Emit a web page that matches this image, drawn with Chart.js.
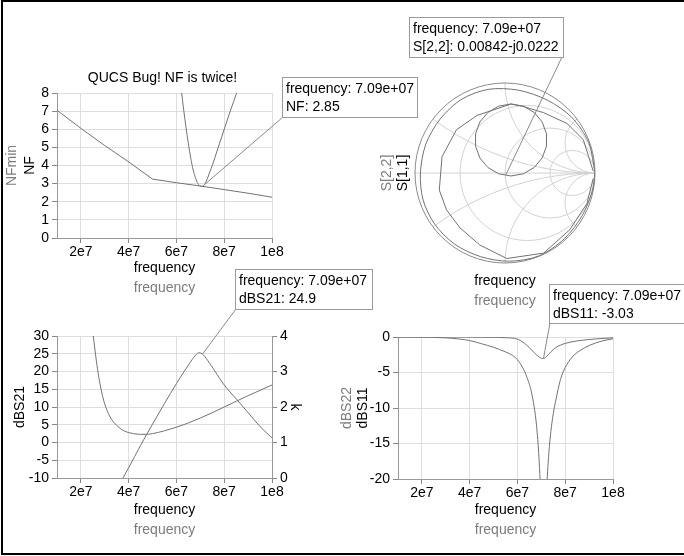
<!DOCTYPE html>
<html><head><meta charset="utf-8">
<script src="https://cdn.jsdelivr.net/npm/chart.js@4/dist/chart.umd.min.js"></script>
<style>
html,body{margin:0;padding:0;background:#fff;}
#wrap{position:relative;width:684px;height:556px;overflow:hidden;background:#fff;}
#frame{position:absolute;left:1px;top:0;width:700px;height:551px;border:2px solid #000;}
canvas{position:absolute;left:0;top:0;}
</style></head><body>
<div id="wrap"><div id="frame"></div>
<canvas id="c1" width="684" height="556"></canvas>
<canvas id="c2" width="684" height="556"></canvas>
<canvas id="c3" width="684" height="556"></canvas>
<canvas id="c4" width="684" height="556"></canvas>
</div>
<script>
// ---------- shared ----------
const FONT = '"Liberation Sans", Arial, Helvetica, sans-serif';
const freqTicks = [2e7, 4e7, 6e7, 8e7, 1e8];
const freqTickLabels = ['2e7', '4e7', '6e7', '8e7', '1e8'];
const markerFreq = 7.09e7;
const markerFreqLabel = '7.09e+07';

// ---------- NF panel ----------
const nfminFreq = [1e7, 2e7, 3e7, 4e7, 5e7, 6e7, 7e7, 8e7, 9e7, 1e8];
const nfminVals = [7.05, 6.05, 5.1, 4.2, 3.25, 3.05, 2.87, 2.67, 2.47, 2.25];
const nfFreq = [6.0e7, 6.1e7, 6.2e7, 6.3e7, 6.4e7, 6.5e7, 6.6e7, 6.7e7, 6.8e7, 6.9e7, 7.0e7, 7.09e7, 7.2e7, 7.3e7, 7.4e7, 7.5e7, 7.6e7, 7.7e7, 7.8e7, 7.9e7, 8.0e7, 8.2e7, 8.4e7, 8.6e7, 8.8e7];
const nfVals = [10.5, 9.2, 8.2, 7.1, 6.1, 5.2, 4.4, 3.75, 3.3, 3.0, 2.87, 2.85, 3.0, 3.3, 3.65, 4.0, 4.4, 4.8, 5.2, 5.6, 6.0, 6.8, 7.55, 8.3, 9.0];
const nfTicks = [0, 1, 2, 3, 4, 5, 6, 7, 8];
const nfTickLabels = ['0', '1', '2', '3', '4', '5', '6', '7', '8'];
const nfMarker = 2.85;
const nfMarkerLabel = '2.85';

// ---------- Smith panel ----------
const s11Re = [1.0, 0.93, 0.74, 0.47, 0.15, -0.18, -0.48, -0.72, -0.88, -0.94, -0.91, -0.78, -0.56, -0.27, 0.05, 0.38, 0.66, 0.86, 0.97, 1.0];
const s11Im = [0.0, 0.34, 0.62, 0.81, 0.92, 0.93, 0.82, 0.6, 0.32, 0.0, -0.3, -0.57, -0.79, -0.93, -0.98, -0.92, -0.73, -0.47, -0.2, 0.0];
const s22Re = [0.98, 0.87, 0.69, 0.43, 0.2, 0.067, 0.204, 0.324, 0.413, 0.461, 0.461, 0.413, 0.324, 0.204, 0.067, -0.070, -0.190, -0.279, -0.327, -0.327, -0.279, -0.190, -0.070, 0.067, -0.31, -0.54, -0.70, -0.73, -0.65, -0.50, -0.28, 0.02, 0.43, 0.72, 0.91, 0.98];
const s22Im = [0.02, 0.37, 0.55, 0.67, 0.74, 0.767, 0.743, 0.673, 0.567, 0.436, 0.298, 0.167, 0.061, -0.009, -0.033, -0.009, 0.061, 0.167, 0.298, 0.436, 0.567, 0.673, 0.743, 0.767, 0.64, 0.48, 0.18, -0.19, -0.41, -0.61, -0.80, -0.95, -0.89, -0.63, -0.34, -0.06];
const s22Marker = [0.00842, -0.0222];
const s22MarkerLabel = '0.00842-j0.0222';
const smithR = [1 / 3, 1, 3];
const smithX = [1 / 3, 1, 3, -1 / 3, -1, -3];

// ---------- dBS21 / k panel ----------
const s21Freq = [3.5e7, 3.76e7, 4e7, 4.5e7, 5e7, 5.5e7, 6e7, 6.5e7, 6.8e7, 6.95e7, 7.09e7, 7.3e7, 7.6e7, 8e7, 8.5e7, 9e7, 9.5e7, 1e8];
const s21Vals = [-13.3, -10, -7.1, -0.8, 5.2, 11.0, 16.6, 21.8, 24.6, 25.3, 24.9, 23.2, 20.2, 16.2, 12.3, 8.4, 4.5, 1.3];
const kFreq = [2.0e7, 2.2e7, 2.4e7, 2.52e7, 2.6e7, 2.7e7, 2.8e7, 2.9e7, 3.0e7, 3.2e7, 3.4e7, 3.6e7, 3.8e7, 4.0e7, 4.2e7, 4.5e7, 4.75e7, 5.0e7, 5.5e7, 6.0e7, 6.5e7, 7.0e7, 7.5e7, 8.0e7, 8.5e7, 9.0e7, 9.5e7, 1.0e8];
const kVals = [7.5, 5.8, 4.6, 4.0, 3.55, 3.05, 2.65, 2.33, 2.08, 1.75, 1.55, 1.42, 1.33, 1.28, 1.25, 1.23, 1.23, 1.25, 1.33, 1.43, 1.55, 1.69, 1.84, 2.0, 2.16, 2.32, 2.47, 2.62];
const s21Ticks = [-10, -5, 0, 5, 10, 15, 20, 25, 30];
const s21TickLabels = ['-10', '-5', '0', '5', '10', '15', '20', '25', '30'];
const kTicks = [0, 1, 2, 3, 4];
const kTickLabels = ['0', '1', '2', '3', '4'];
const s21Marker = 24.9;
const s21MarkerLabel = '24.9';

// ---------- dBS11 / dBS22 panel ----------
const s11Freq = [1e7, 2e7, 3e7, 4e7, 5e7, 5.5e7, 6e7, 6.3e7, 6.5e7, 6.7e7, 6.9e7, 7.0e7, 7.09e7, 7.2e7, 7.4e7, 7.6e7, 7.8e7, 8e7, 8.5e7, 9e7, 9.5e7, 1e8];
const s11Vals = [0, 0, 0, -0.02, -0.05, -0.1, -0.3, -0.9, -1.5, -2.2, -2.8, -3.0, -3.03, -2.8, -2.1, -1.5, -1.15, -0.9, -0.55, -0.35, -0.22, -0.12];
const s22Freq = [1e7, 2e7, 3e7, 3.6e7, 4e7, 4.5e7, 5e7, 5.5e7, 5.8e7, 6e7, 6.2e7, 6.4e7, 6.6e7, 6.8e7, 6.9e7, 7.0e7, 7.09e7, 7.2e7, 7.3e7, 7.4e7, 7.5e7, 7.6e7, 7.8e7, 8e7, 8.3e7, 8.6e7, 9e7, 9.5e7, 1e8];
const s22Vals = [0, -0.02, -0.12, -0.3, -0.5, -0.95, -1.45, -2.1, -2.6, -3.2, -4.2, -5.7, -8.0, -12.5, -17, -24, -32.5, -23, -17, -13.3, -10.8, -9.0, -6.0, -4.3, -2.8, -1.95, -1.2, -0.6, -0.25];
const dbTicks = [-20, -15, -10, -5, 0];
const dbTickLabels = ['-20', '-15', '-10', '-5', '0'];
const s11Marker = -3.03;
const s11MarkerLabel = '-3.03';

// ---------- helpers ----------
const LINE = '#727272';
const GREY_TXT = '#7c7c7c';
const pts = (xs, ys) => xs.map((v, i) => ({x: v, y: ys[i]}));
function fix(w, h) {
  return s => { if (w != null) s.width = w; if (h != null) s.height = h;
    s.paddingLeft = 0; s.paddingRight = 0; s.paddingTop = 0; s.paddingBottom = 0; };
}
function xScale() {
  return { type: 'linear', position: 'bottom', min: 1e7, max: 1e8,
    afterBuildTicks: s => { s.ticks = freqTicks.map(v => ({value: v})); },
    afterFit: fix(null, 30),
    ticks: { autoSkip: false, maxRotation: 0, padding: 1, color: '#000', font: {family: FONT, size: 14},
      callback: (v, i) => freqTickLabels[i] },
    grid: { color: '#dedede', tickColor: '#888', tickLength: 5 },
    border: { color: '#999' } };
}
function yScale(min, max, ticks, labels, pos, w) {
  return { type: 'linear', position: pos, min: min, max: max,
    afterBuildTicks: s => { s.ticks = ticks.map(v => ({value: v})); },
    afterFit: fix(w, null),
    ticks: { autoSkip: false, padding: 3, color: '#000', font: {family: FONT, size: 14},
      callback: (v, i) => labels[i] },
    grid: { color: '#dedede', tickColor: '#888', tickLength: 5, drawOnChartArea: pos !== 'right' },
    border: { color: '#999' } };
}
function ds(data, axis, smooth, tension) {
  const d = { data: data, showLine: true, pointRadius: 0, borderColor: LINE, borderWidth: 1,
    fill: false, tension: tension || 0 };
  if (axis) d.yAxisID = axis;
  if (smooth) d.cubicInterpolationMode = 'monotone';
  return d;
}
function txt(ctx, t, x, y, color, rot) {
  ctx.save(); ctx.translate(x, y); if (rot) ctx.rotate(rot);
  ctx.fillStyle = color; ctx.font = '14px ' + FONT; ctx.textAlign = 'center'; ctx.textBaseline = 'middle';
  ctx.fillText(t, 0, 0); ctx.restore();
}
function annot(ctx, b, lines, mx, my, ax, ay) {
  ctx.save();
  ctx.strokeStyle = '#8a8a8a'; ctx.lineWidth = 1;
  ctx.beginPath(); ctx.moveTo(mx, my); ctx.lineTo(ax, ay); ctx.stroke();
  ctx.fillStyle = '#fff'; ctx.fillRect(b.x, b.y, b.w, b.h);
  ctx.strokeStyle = '#9a9a9a'; ctx.strokeRect(b.x + 0.5, b.y + 0.5, b.w, b.h);
  ctx.fillStyle = '#000'; ctx.font = '14px ' + FONT; ctx.textAlign = 'left'; ctx.textBaseline = 'middle';
  lines.forEach((t, i) => ctx.fillText(t, b.x + 4, b.y + 12 + i * 18));
  ctx.restore();
}
const base = { responsive: false, animation: false, devicePixelRatio: 1,
  plugins: { legend: { display: false }, tooltip: { enabled: false } } };
function opts(extra) { return Object.assign({}, base, extra); }

// ---------- chart 1: NF ----------
new Chart(document.getElementById('c1'), {
  type: 'scatter',
  data: { datasets: [ ds(pts(nfminFreq, nfminVals)), ds(pts(nfFreq, nfVals), null, true) ] },
  options: opts({ layout: { padding: { left: 17, right: 412, top: 93, bottom: 288 } },
    scales: { x: xScale(), y: yScale(0, 8, nfTicks, nfTickLabels, 'left', 40) } }),
  plugins: [{ id: 'p1', afterDraw(c) {
    const {ctx, chartArea: a, scales: {x, y}} = c;
    const cx = (a.left + a.right) / 2, cy = (a.top + a.bottom) / 2;
    txt(ctx, 'QUCS Bug! NF is twice!', cx - 2, 78, '#000');
    txt(ctx, 'NF', 30, cy, '#000', -Math.PI / 2);
    txt(ctx, 'NFmin', 12, cy, GREY_TXT, -Math.PI / 2);
    txt(ctx, 'frequency', cx, a.bottom + 30, '#000');
    txt(ctx, 'frequency', cx, a.bottom + 50, GREY_TXT);
    annot(ctx, {x: 282, y: 77, w: 135, h: 40}, ['frequency: ' + markerFreqLabel, 'NF: ' + nfMarkerLabel],
      x.getPixelForValue(markerFreq), y.getPixelForValue(nfMarker), 283, 117);
  } }]
});

// ---------- chart 2: Smith ----------
new Chart(document.getElementById('c2'), {
  type: 'scatter',
  data: { datasets: [ ds(pts(s11Re, s11Im), null, false, 0.3), ds(pts(s22Re, s22Im)) ] },
  options: opts({ layout: { padding: { left: 415, right: 89, top: 83, bottom: 293 } },
    scales: { x: { type: 'linear', min: -1, max: 1, display: false },
              y: { type: 'linear', min: -1, max: 1, display: false } } }),
  plugins: [{ id: 'p2',
    beforeDatasetsDraw(c) {
      const {ctx, scales: {x, y}} = c;
      const cx = x.getPixelForValue(0), cy = y.getPixelForValue(0);
      const R = x.getPixelForValue(1) - cx;
      ctx.save();
      ctx.beginPath(); ctx.arc(cx, cy, R, 0, 2 * Math.PI); ctx.clip();
      ctx.strokeStyle = '#d2d2d2'; ctx.lineWidth = 1;
      ctx.beginPath(); ctx.moveTo(cx - R, cy); ctx.lineTo(cx + R, cy); ctx.stroke();
      smithR.forEach(r => {
        ctx.beginPath();
        ctx.arc(x.getPixelForValue(r / (r + 1)), cy, R / (r + 1), 0, 2 * Math.PI); ctx.stroke();
      });
      smithX.forEach(xv => {
        ctx.beginPath();
        ctx.arc(x.getPixelForValue(1), y.getPixelForValue(1 / xv), R / Math.abs(xv), 0, 2 * Math.PI); ctx.stroke();
      });
      ctx.restore();
      ctx.save(); ctx.strokeStyle = '#8a8a8a'; ctx.lineWidth = 1;
      ctx.beginPath(); ctx.arc(cx, cy, R, 0, 2 * Math.PI); ctx.stroke(); ctx.restore();
    },
    afterDraw(c) {
      const {ctx, chartArea: a, scales: {x, y}} = c;
      const cx = (a.left + a.right) / 2, cy = (a.top + a.bottom) / 2;
      txt(ctx, 'S[1,1]', 403, cy, '#000', -Math.PI / 2);
      txt(ctx, 'S[2,2]', 387, cy, GREY_TXT, -Math.PI / 2);
      txt(ctx, 'frequency', cx, 281, '#000');
      txt(ctx, 'frequency', cx, 301, GREY_TXT);
      annot(ctx, {x: 409, y: 17, w: 154, h: 40}, ['frequency: ' + markerFreqLabel, 'S[2,2]: ' + s22MarkerLabel],
        x.getPixelForValue(s22Marker[0]), y.getPixelForValue(s22Marker[1]), 562, 57);
    } }]
});

// ---------- chart 3: dBS21 / k ----------
new Chart(document.getElementById('c3'), {
  type: 'scatter',
  data: { datasets: [ ds(pts(s21Freq, s21Vals), 'y', true), ds(pts(kFreq, kVals), 'k', true) ] },
  options: opts({ layout: { padding: { left: 17, right: 382, top: 336, bottom: 48 } },
    scales: { x: xScale(), y: yScale(-10, 30, s21Ticks, s21TickLabels, 'left', 40),
              k: yScale(0, 4, kTicks, kTickLabels, 'right', 30) } }),
  plugins: [{ id: 'p3', afterDraw(c) {
    const {ctx, chartArea: a, scales: {x, y}} = c;
    const cx = (a.left + a.right) / 2, cy = (a.top + a.bottom) / 2;
    txt(ctx, 'dBS21', 20, cy, '#000', -Math.PI / 2);
    txt(ctx, 'k', 295, cy, '#000', Math.PI / 2);
    txt(ctx, 'frequency', cx, 510, '#000');
    txt(ctx, 'frequency', cx, 530, GREY_TXT);
    annot(ctx, {x: 235, y: 269, w: 137, h: 40}, ['frequency: ' + markerFreqLabel, 'dBS21: ' + s21MarkerLabel],
      x.getPixelForValue(markerFreq), y.getPixelForValue(s21Marker), 236, 309);
  } }]
});

// ---------- chart 4: dBS11 / dBS22 ----------
new Chart(document.getElementById('c4'), {
  type: 'scatter',
  data: { datasets: [ ds(pts(s11Freq, s11Vals), 'y', true), ds(pts(s22Freq, s22Vals), 'y', true) ] },
  options: opts({ layout: { padding: { left: 358, right: 71, top: 337, bottom: 47 } },
    scales: { x: xScale(), y: yScale(-20, 0, dbTicks, dbTickLabels, 'left', 40) } }),
  plugins: [{ id: 'p4', afterDraw(c) {
    const {ctx, chartArea: a, scales: {x, y}} = c;
    const cx = (a.left + a.right) / 2, cy = (a.top + a.bottom) / 2;
    txt(ctx, 'dBS11', 363, cy, '#000', -Math.PI / 2);
    txt(ctx, 'dBS22', 347, cy, GREY_TXT, -Math.PI / 2);
    txt(ctx, 'frequency', cx, 510, '#000');
    txt(ctx, 'frequency', cx, 530, GREY_TXT);
    annot(ctx, {x: 549, y: 284, w: 142, h: 39}, ['frequency: ' + markerFreqLabel, 'dBS11: ' + s11MarkerLabel],
      x.getPixelForValue(markerFreq), y.getPixelForValue(s11Marker), 550, 323);
  } }]
});
</script>
</body></html>
